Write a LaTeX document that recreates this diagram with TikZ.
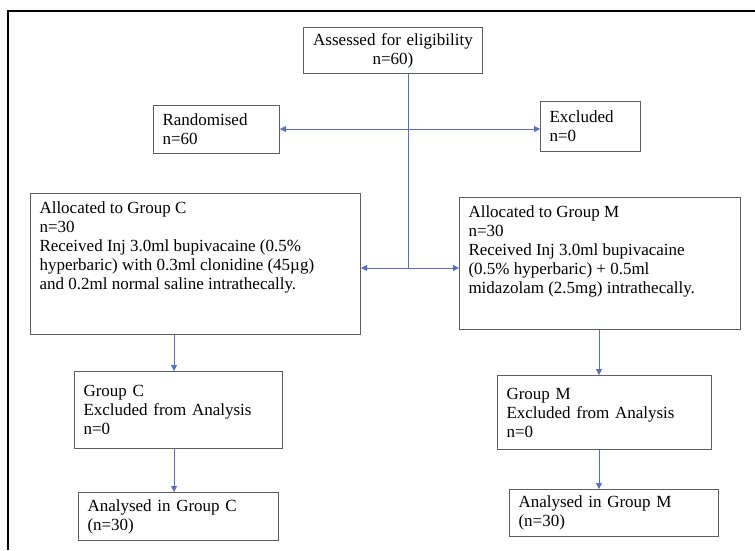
\documentclass[tikz,border=0pt]{standalone}
\usepackage{fontspec}
\setmainfont{Liberation Serif}
\usepackage{tikz}
\usetikzlibrary{arrows,arrows.meta}
\definecolor{flowblue}{RGB}{88,112,186}
\definecolor{boxgray}{RGB}{95,95,95}
\tikzstyle{box} = [draw=boxgray, line width=1pt, anchor=north west, align=left, inner xsep=9pt, inner ysep=0pt, font=\fontsize{17}{19}\selectfont]
\tikzstyle{arrow} = [draw=flowblue, line width=0.8pt, ->, >={Triangle[length=6pt,width=6pt]}]
\tikzstyle{line} = [draw=flowblue, line width=0.8pt]

\begin{document}
\begin{tikzpicture}[x=1pt,y=-1pt]
\fill[white] (0,0) rectangle (755,550);
\useasboundingbox (0,0) rectangle (755,550);
\draw [line width=1.3pt] (8,550) -- (8,11) -- (755,11);

\node (assess) [box, align=center, text width=161pt, minimum height=46pt] at (303,27) {Assessed for eligibility\\ n=60)};
\node (rand) [box, text width=108pt, minimum height=48pt] at (153,105) {Randomised\\ n=60};
\node (excl) [box, text width=82pt, minimum height=50pt] at (540,101) {Excluded\\ n=0};

\node (allocC) [box, minimum width=330pt, minimum height=141pt] at (30,193) {\parbox[t][125pt][t]{312pt}{\raggedright Allocated to Group C\\ n=30\\ Received Inj 3.0ml bupivacaine (0.5\%\\ hyperbaric) with 0.3ml clonidine (45µg)\\ and 0.2ml normal saline intrathecally.}};
\node (allocM) [box, minimum width=281pt, minimum height=132pt] at (459,197) {\parbox[t][116pt][t]{263pt}{\raggedright Allocated to Group M\\ n=30\\ Received Inj 3.0ml bupivacaine\\ (0.5\% hyperbaric) + 0.5ml\\ midazolam (2.5mg) intrathecally.}};

\node (grpC) [box, text width=190pt, minimum height=77pt] at (74,371) {Group C\\ Excluded from Analysis\\ n=0};
\node (analC) [box, text width=182pt, minimum height=48pt] at (78,492) {Analysed in Group C\\ (n=30)};
\node (grpM) [box, text width=196pt, minimum height=74pt] at (497,375) {Group M\\ Excluded from Analysis\\ n=0};
\node (analM) [box, text width=191pt, minimum height=47pt] at (509,489) {Analysed in Group M\\ (n=30)};

\coordinate (split) at (408,129);
\coordinate (fork) at (408,268);
\coordinate (colC) at (174,0);
\coordinate (colM) at (599,0);

\draw [line] (assess.south -| split) -- (fork);
\draw [arrow] (split) -- (rand.east |- split);
\draw [arrow] (split) -- (excl.west |- split);
\draw [arrow] (fork) -- (allocC.east |- fork);
\draw [arrow] (fork) -- (allocM.west |- fork);
\draw [arrow] (allocC.south -| colC) -- (grpC.north -| colC);
\draw [arrow] (grpC.south -| colC) -- (analC.north -| colC);
\draw [arrow] (allocM.south -| colM) -- (grpM.north -| colM);
\draw [arrow] (grpM.south -| colM) -- (analM.north -| colM);
\end{tikzpicture}
\end{document}
